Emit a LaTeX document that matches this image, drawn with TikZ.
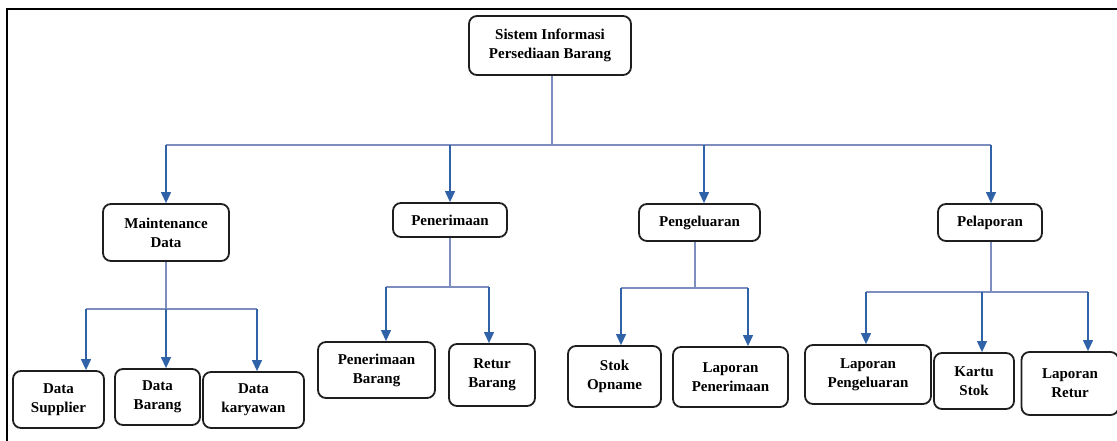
\documentclass[tikz,border=0pt]{standalone}
\usepackage{fontspec}
\setmainfont{Liberation Serif}
\usetikzlibrary{arrows.meta}
\definecolor{stubc}{HTML}{7D8DBE}
\definecolor{arrc}{HTML}{2F62A6}
\definecolor{boxc}{HTML}{1E1E1E}
\tikzset{
  box/.style={draw=boxc, line width=1.8pt, rounded corners=8pt, align=center,
    font=\fontsize{15}{19}\selectfont\bfseries, inner sep=2pt},
  stub/.style={draw=stubc, line width=1.1pt},
  arr/.style={draw=arrc, line width=1.2pt, -{Triangle[width=10pt,length=11pt]}},
  frame/.style={draw=black, line width=2pt}
}
\begin{document}
\begin{tikzpicture}[x=1pt,y=-1pt]
\useasboundingbox (0,0) rectangle (1117,441);
% frame
\coordinate (fr1) at (7,441);
\coordinate (fr2) at (7,9);
\coordinate (fr3) at (1117,9);
\draw[frame] (fr1) -- (fr2) -- (fr3);

% nodes
\node[box, minimum width=162pt, minimum height=59pt] (top) at (550,45.5) {Sistem Informasi\\Persediaan Barang};
\node[box, minimum width=126pt, minimum height=57pt] (md) at (166,232.5) {Maintenance\\Data};
\node[box, minimum width=114pt, minimum height=34pt] (pn) at (450,220) {Penerimaan};
\node[box, minimum width=121pt, minimum height=37pt] (pg) at (699.5,222.5) {Pengeluaran};
\node[box, minimum width=104pt, minimum height=37pt] (pl) at (990,222.5) {Pelaporan};

\node[box, minimum width=91pt, minimum height=57pt] (ds) at (58.5,399.5) {Data\\Supplier};
\node[box, minimum width=85pt, minimum height=56pt] (db) at (157.5,397) {Data\\Barang};
\node[box, minimum width=101pt, minimum height=56pt] (dk) at (253.5,400) {Data\\karyawan};

\node[box, minimum width=117pt, minimum height=56pt] (pb) at (376.5,370) {Penerimaan\\Barang};
\node[box, minimum width=86pt, minimum height=62pt] (rb) at (492,375) {Retur\\Barang};

\node[box, minimum width=93pt, minimum height=61pt] (so) at (614.5,376.5) {Stok\\Opname};
\node[box, minimum width=115pt, minimum height=60pt] (lp) at (730.5,377) {Laporan\\Penerimaan};

\node[box, minimum width=126pt, minimum height=59pt] (lg) at (868,374.5) {Laporan\\Pengeluaran};
\node[box, minimum width=80pt, minimum height=56pt] (ks) at (974,381) {Kartu\\Stok};
\node[box, minimum width=97pt, minimum height=63pt] (lr) at (1070,383.5) {Laporan\\Retur};

% level 1 connectors
\coordinate (j0) at (552,145);
\coordinate (h0a) at (166,145);
\coordinate (h0b) at (450,145);
\coordinate (h0c) at (704,145);
\coordinate (h0d) at (991,145);
\draw[stub] (top.south -| j0) -- (j0);
\draw[stub] (h0a) -- (h0d);
\draw[arr] (h0a) -- (h0a |- md.north);
\draw[arr] (h0b) -- (h0b |- pn.north);
\draw[arr] (h0c) -- (h0c |- pg.north);
\draw[arr] (h0d) -- (h0d |- pl.north);

% Maintenance Data subtree
\coordinate (j1) at (166,309);
\coordinate (a1) at (86,309);
\coordinate (a2) at (166,309);
\coordinate (a3) at (257,309);
\draw[stub] (md.south) -- (j1);
\draw[stub] (a1) -- (a3);
\draw[arr] (a1) -- (a1 |- ds.north);
\draw[arr] (a2) -- (a2 |- db.north);
\draw[arr] (a3) -- (a3 |- dk.north);

% Penerimaan subtree
\coordinate (j2) at (450,287);
\coordinate (b1) at (386,287);
\coordinate (b2) at (489,287);
\draw[stub] (pn.south) -- (j2);
\draw[stub] (b1) -- (b2);
\draw[arr] (b1) -- (b1 |- pb.north);
\draw[arr] (b2) -- (b2 |- rb.north);

% Pengeluaran subtree
\coordinate (j3) at (695,288);
\coordinate (c1) at (621,288);
\coordinate (c2) at (748,288);
\draw[stub] (pg.south -| j3) -- (j3);
\draw[stub] (c1) -- (c2);
\draw[arr] (c1) -- (c1 |- so.north);
\draw[arr] (c2) -- (c2 |- lp.north);

% Pelaporan subtree
\coordinate (j4) at (991,292);
\coordinate (d1) at (866,292);
\coordinate (d2) at (982,292);
\coordinate (d3) at (1088,292);
\draw[stub] (pl.south -| j4) -- (j4);
\draw[stub] (d1) -- (d3);
\draw[arr] (d1) -- (d1 |- lg.north);
\draw[arr] (d2) -- (d2 |- ks.north);
\draw[arr] (d3) -- (d3 |- lr.north);
\end{tikzpicture}
\end{document}
